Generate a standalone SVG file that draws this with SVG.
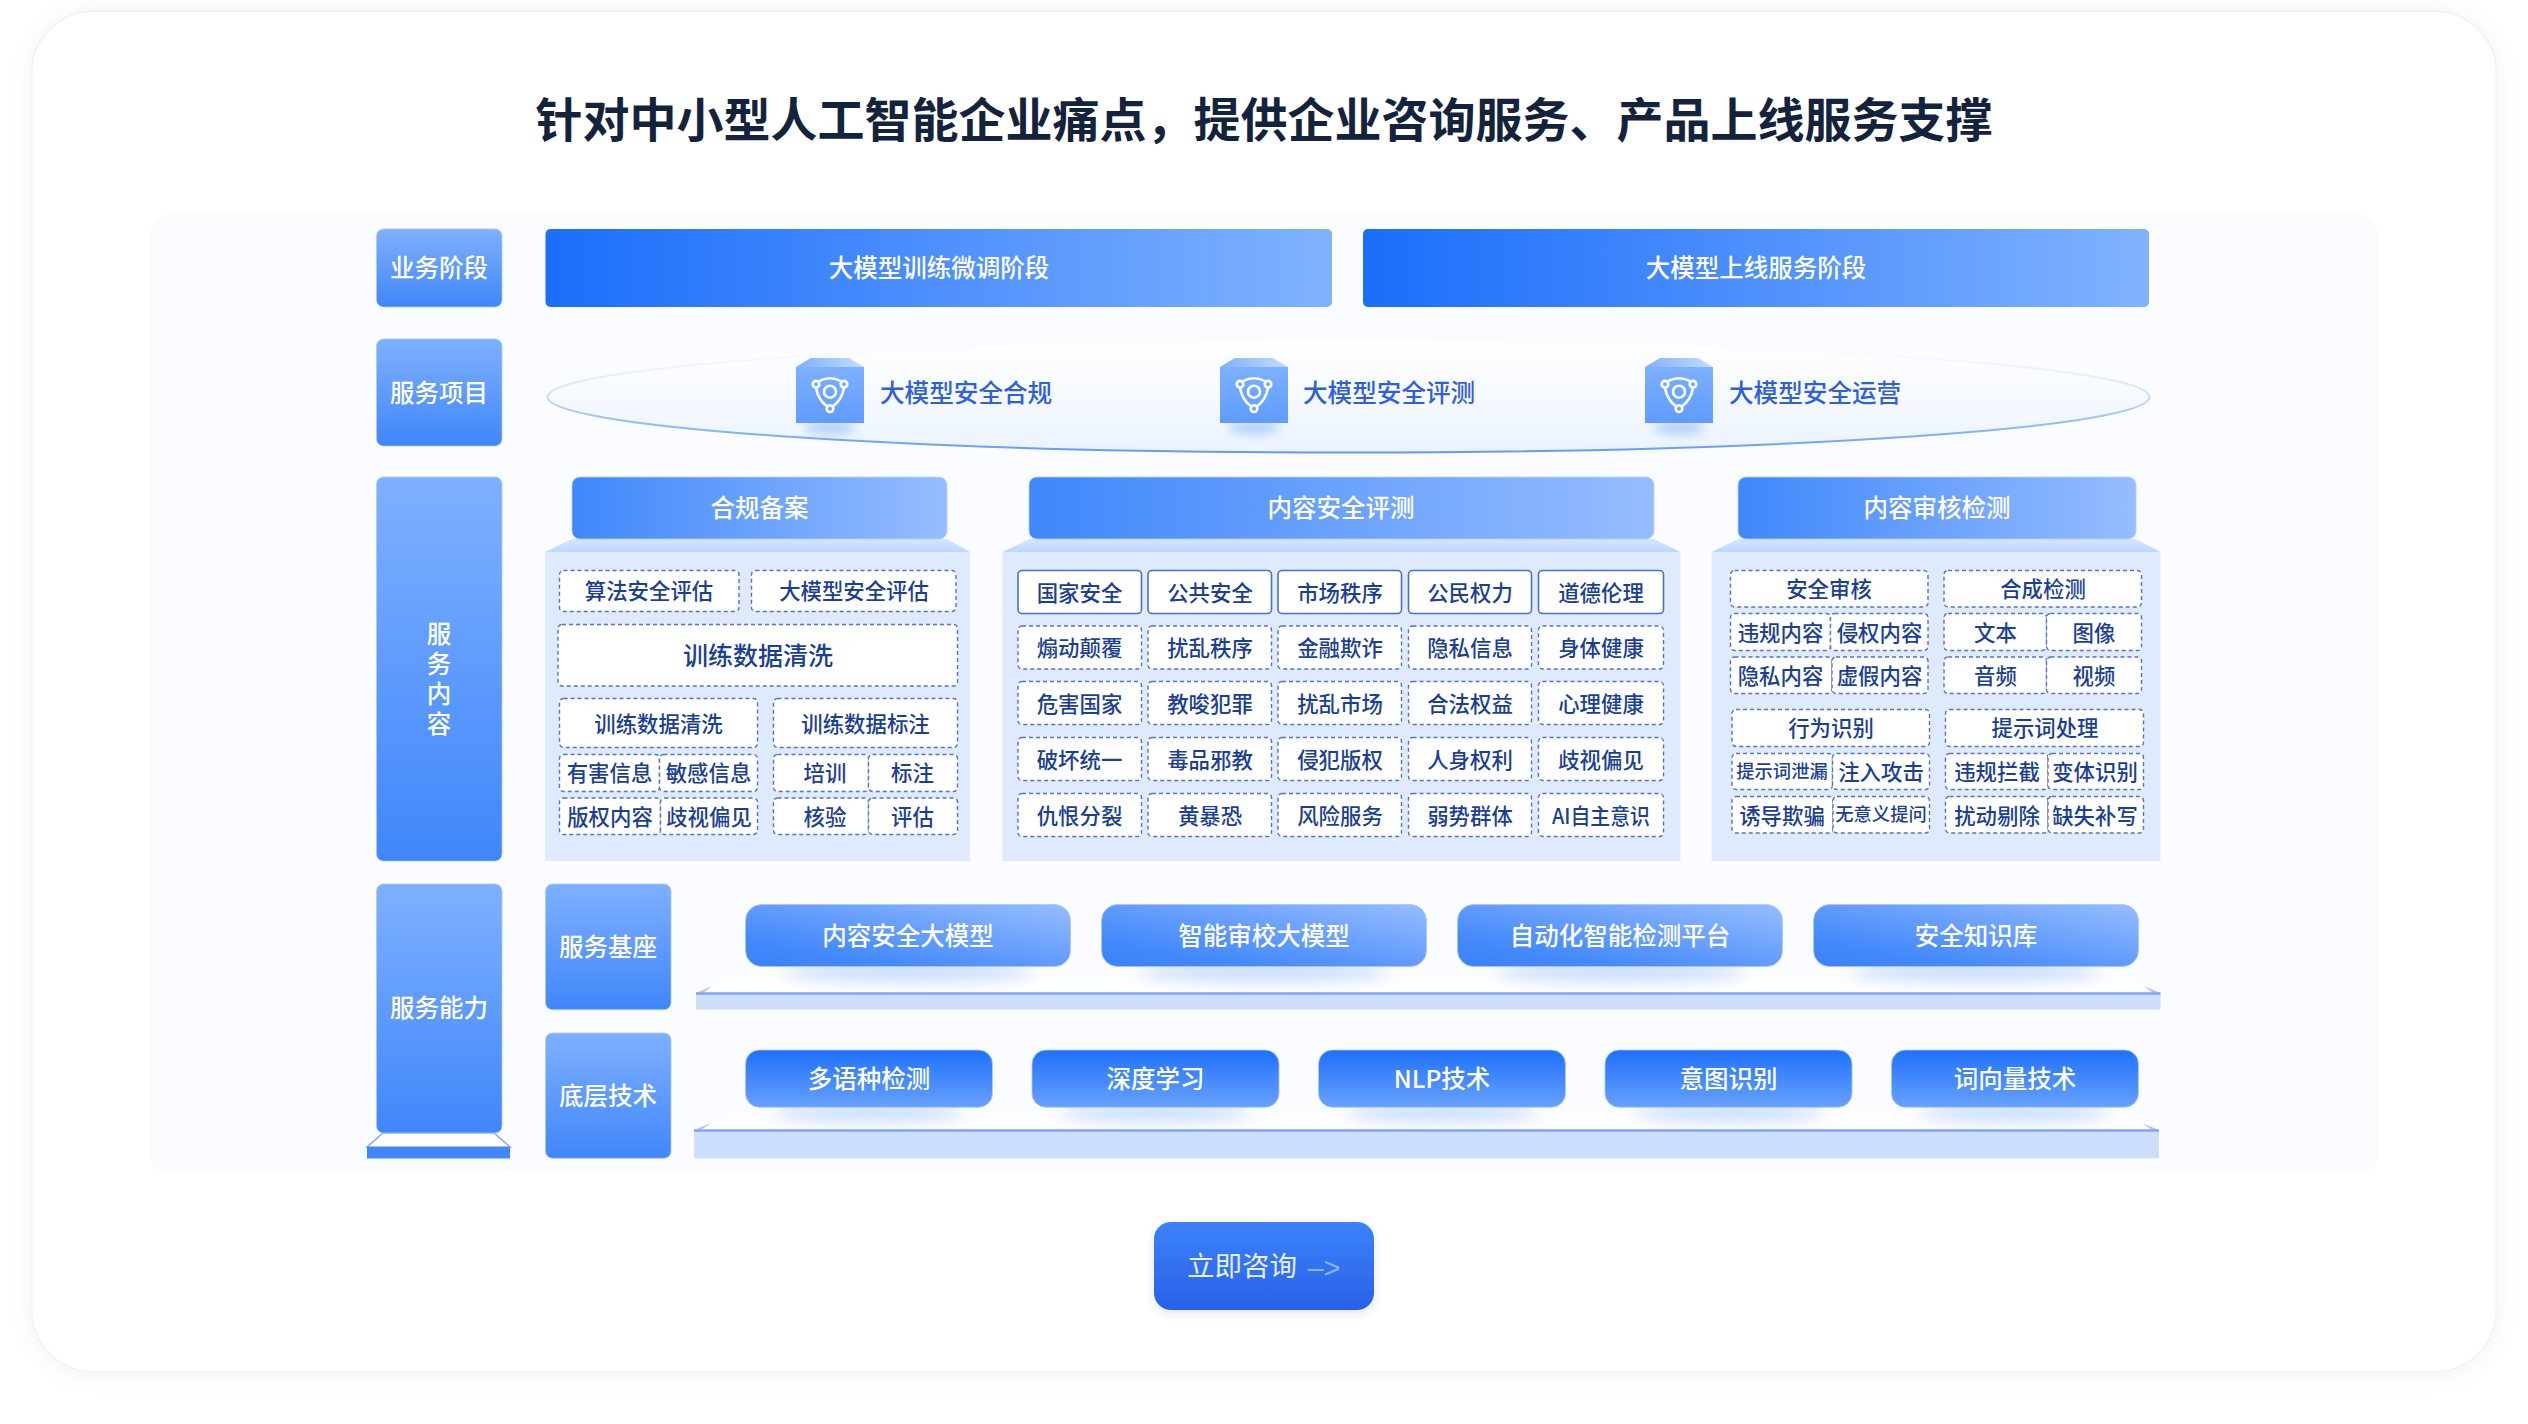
<svg xmlns="http://www.w3.org/2000/svg" width="2528" height="1424" viewBox="0 0 2528 1424">
<style>
text{font-family:"Noto Sans CJK SC","Noto Sans",sans-serif;text-anchor:middle;dominant-baseline:central;transform:translateY(-.07em)}
.w{fill:#fff;font-size:24.5px;font-weight:500}
.c{fill:#1b3f96;font-size:21.4px;font-weight:500}
.cs{fill:#1b3f96;font-size:18.3px;font-weight:500}
.cl{fill:#1b3f96;font-size:25px;font-weight:500}
.svc{fill:#2f5fdc;font-size:24.6px;font-weight:500;text-anchor:start}
.d{fill:#fff;stroke:#5673bd;stroke-width:1.4;stroke-dasharray:4 3}
.s{fill:#fff;stroke:#4a72c4;stroke-width:1.6}
.lab{fill:url(#gLab);stroke:#a9c8ff;stroke-width:.8}
.hd{fill:url(#gHead);stroke:#b5d0ff;stroke-width:.8}
.body{fill:#dfeaff}
.trap{fill:url(#gTrap)}
.b1{fill:url(#gB1);stroke:#a9c8ff;stroke-width:.8}
.b2{fill:url(#gB2);stroke:#a9c8ff;stroke-width:.8}
.shd{fill:#4f90f8;opacity:.32;filter:url(#blur)}
.plat{fill:#cddffd}
.pl{stroke:#85a2f3;stroke-width:2.4}
.sl{fill:#8ea9f5;opacity:.7}
.ic{fill:none;stroke:#fff;stroke-width:2.6;stroke-linecap:round}
</style>
<defs>
<linearGradient id="gLab" x1="0" y1="0" x2="0" y2="1"><stop offset="0" stop-color="#7eb0ff"/><stop offset="1" stop-color="#4086fa"/></linearGradient>
<linearGradient id="gStage" x1="0" y1="0" x2="1" y2="0"><stop offset="0" stop-color="#1b6dfb"/><stop offset="1" stop-color="#80b2ff"/></linearGradient>
<linearGradient id="gHead" x1="0" y1="0" x2="1" y2="0"><stop offset="0" stop-color="#3f87fb"/><stop offset="1" stop-color="#96bdff"/></linearGradient>
<linearGradient id="gTrap" x1="0" y1="0" x2="0" y2="1"><stop offset="0" stop-color="#d6e5ff"/><stop offset="1" stop-color="#bdd7ff"/></linearGradient>
<linearGradient id="gB1" x1="0" y1="1" x2="1" y2="0"><stop offset="0" stop-color="#3a82fa"/><stop offset=".25" stop-color="#468afb"/><stop offset="1" stop-color="#96bdff"/></linearGradient>
<linearGradient id="gB2" x1="0" y1="0" x2="0" y2="1"><stop offset="0" stop-color="#1f71fb"/><stop offset="1" stop-color="#67a1fc"/></linearGradient>
<linearGradient id="gEllF" x1="0" y1="0" x2="0" y2="1"><stop offset="0" stop-color="#fff" stop-opacity=".8"/><stop offset="1" stop-color="#ebf3fe"/></linearGradient>
<linearGradient id="gEllS" x1="0" y1="0" x2="0" y2="1"><stop offset="0" stop-color="#fff" stop-opacity=".3"/><stop offset=".5" stop-color="#c4dafc"/><stop offset="1" stop-color="#5f9bfb"/></linearGradient>
<linearGradient id="gIcB" x1="0" y1="0" x2="0" y2="1"><stop offset="0" stop-color="#7cb0ff"/><stop offset="1" stop-color="#5f9cff"/></linearGradient>
<linearGradient id="gIcT" x1="0" y1="0" x2="1" y2="0"><stop offset="0" stop-color="#7fb0ff"/><stop offset="1" stop-color="#c6dcff"/></linearGradient>
<linearGradient id="gCta" x1="0" y1="0" x2="0" y2="1"><stop offset="0" stop-color="#3c82fa"/><stop offset="1" stop-color="#2861e8"/></linearGradient>
<linearGradient id="gPf" x1="0" y1="0" x2="0" y2="1"><stop offset="0" stop-color="#fff" stop-opacity="0"/><stop offset="1" stop-color="#fff"/></linearGradient>
<filter id="blur" x="-30%" y="-120%" width="160%" height="340%"><feGaussianBlur stdDeviation="8"/></filter>
<filter id="card" x="-5%" y="-5%" width="110%" height="110%"><feDropShadow dx="0" dy="2" stdDeviation="11" flood-color="#1b2b50" flood-opacity=".05"/></filter>
<filter id="ctaS" x="-20%" y="-30%" width="140%" height="170%"><feDropShadow dx="0" dy="3" stdDeviation="4" flood-color="#3a4a70" flood-opacity=".14"/></filter>
<filter id="blurS" x="-40%" y="-150%" width="180%" height="400%"><feGaussianBlur stdDeviation="5"/></filter>
<g id="shield">
<ellipse cx="0" cy="36" rx="26" ry="7" fill="#4f90f8" opacity=".35" filter="url(#blurS)"/>
<path d="M-19-33.7H19L34-24.7H-34Z" fill="url(#gIcT)"/>
<rect x="-34" y="-24.7" width="68" height="56" fill="url(#gIcB)"/>
<circle class="ic" cx="0" cy="0" r="6"/>
<circle class="ic" cx="-14" cy="-7.5" r="3.3"/>
<circle class="ic" cx="14" cy="-7.5" r="3.3"/>
<circle class="ic" cx="0" cy="17" r="3.3"/>
<path class="ic" d="M-10-11Q0-16 10-11M-14-4Q-12 8-3 14.500M14-4Q12 8 3 14.500"/>
</g>
</defs>

<rect width="2528" height="1424" fill="#fff"/>
<rect id="card-bg" x="31.500" y="11" width="2465" height="1361" rx="62" fill="#fff" stroke="#f2f3f5" stroke-width="2" filter="url(#card)"/>
<rect id="panel-bg" x="150" y="214" width="2228" height="959" rx="20" fill="#fbfcff"/>
<g id="title"><text x="1264" y="120" fill="#14233c" font-size="47" font-weight="700">针对中小型人工智能企业痛点，提供企业咨询服务、产品上线服务支撑</text></g>

<g id="row-labels">
<g id="lab-stage"><rect class="lab" x="376.500" y="229" width="125.500" height="78" rx="7"/><text class="w" x="439" y="268">业务阶段</text></g>
<g id="lab-item"><rect class="lab" x="376.500" y="339" width="125.500" height="107" rx="7"/><text class="w" x="439" y="393">服务项目</text></g>
<g id="lab-content"><rect class="lab" x="376.500" y="477" width="125.500" height="384" rx="7"/><text class="w" x="439" y="634"><tspan x="439" y="634">服</tspan><tspan x="439" y="664">务</tspan><tspan x="439" y="694">内</tspan><tspan x="439" y="724">容</tspan></text></g>
<g id="lab-ability">
<path d="M383 1133H494L510 1147H367Z" fill="#fff" stroke="#7fa9f9" stroke-width="1.5"/>
<rect x="367" y="1147" width="143" height="11.500" fill="#3f85fb"/>
<rect class="lab" x="376.500" y="884" width="125.500" height="249" rx="7"/><text class="w" x="439" y="1008">服务能力</text></g>
<g id="lab-base"><rect class="lab" x="545.500" y="884" width="125.500" height="125.700" rx="7"/><text class="w" x="608" y="947.500">服务基座</text></g>
<g id="lab-tech"><rect class="lab" x="545.500" y="1033" width="125.500" height="125.300" rx="7"/><text class="w" x="608" y="1096.500">底层技术</text></g>
</g>

<g id="stages">
<g id="stage-train"><rect x="545.500" y="229" width="786.500" height="78" rx="5" fill="url(#gStage)"/><text class="w" x="939" y="268">大模型训练微调阶段</text></g>
<g id="stage-online"><rect x="1363" y="229" width="786" height="78" rx="5" fill="url(#gStage)"/><text class="w" x="1756" y="268">大模型上线服务阶段</text></g>
</g>

<g id="service-items">
<ellipse cx="1348.500" cy="397" rx="801" ry="55.500" fill="url(#gEllF)" stroke="url(#gEllS)" stroke-width="2"/>
<g id="item-compliance"><use href="#shield" x="830" y="391.700"/><text class="svc" x="880" y="393">大模型安全合规</text></g>
<g id="item-eval"><use href="#shield" x="1254" y="391.700"/><text class="svc" x="1303" y="393">大模型安全评测</text></g>
<g id="item-ops"><use href="#shield" x="1679" y="391.700"/><text class="svc" x="1729" y="393">大模型安全运营</text></g>
</g>

<g id="panel-compliance">
<path class="trap" d="M572 539H947L970 552H545Z"/>
<rect class="body" x="545" y="552" width="425" height="309"/>
<rect class="hd" x="572" y="477" width="375" height="62" rx="8"/><text class="w" x="759.500" y="508">合规备案</text>
<g><rect class="d" x="559.500" y="570.500" width="179.500" height="41" rx="4"/><text class="c" x="649" y="591">算法安全评估</text></g>
<g><rect class="d" x="751.500" y="570.500" width="204.500" height="41" rx="4"/><text class="c" x="854" y="591">大模型安全评估</text></g>
<g><rect class="d" x="558" y="624.500" width="399.500" height="61.500" rx="4"/><text class="cl" x="758" y="656">训练数据清洗</text></g>
<g><rect class="d" x="559.500" y="698.500" width="198" height="49" rx="4"/><text class="c" x="658.500" y="723.500">训练数据清洗</text></g>
<g><rect class="d" x="773.500" y="698.500" width="184" height="49" rx="4"/><text class="c" x="865.500" y="723.500">训练数据标注</text></g>
<g><rect class="d" x="559.500" y="754.500" width="100" height="37" rx="4"/><text class="c" x="609.500" y="773">有害信息</text></g>
<g><rect class="d" x="659.500" y="754.500" width="98" height="37" rx="4"/><text class="c" x="708.500" y="773">敏感信息</text></g>
<g><rect class="d" x="559.500" y="798" width="101" height="36.500" rx="4"/><text class="c" x="610" y="816.500">版权内容</text></g>
<g><rect class="d" x="660.500" y="798" width="97" height="36.500" rx="4"/><text class="c" x="709" y="816.500">歧视偏见</text></g>
<g><rect class="d" x="773.500" y="754.500" width="95" height="37" rx="4"/><text class="c" x="825" y="773">培训</text></g>
<g><rect class="d" x="868.500" y="754.500" width="89" height="37" rx="4"/><text class="c" x="912.500" y="773">标注</text></g>
<g><rect class="d" x="773.500" y="798" width="95" height="36.500" rx="4"/><text class="c" x="825" y="816.500">核验</text></g>
<g><rect class="d" x="868.500" y="798" width="89" height="36.500" rx="4"/><text class="c" x="912.500" y="816.500">评估</text></g>
</g>

<g id="panel-content-eval">
<path class="trap" d="M1029 539H1654L1680.500 552H1002.500Z"/>
<rect class="body" x="1002.500" y="552" width="678" height="309"/>
<rect class="hd" x="1029" y="477" width="625" height="62" rx="8"/><text class="w" x="1341" y="508">内容安全评测</text>
<g><rect class="s" x="1018" y="570.500" width="123.500" height="43" rx="4"/><text class="c" x="1079.500" y="592.500">国家安全</text></g>
<g><rect class="s" x="1148" y="570.500" width="123.500" height="43" rx="4"/><text class="c" x="1210" y="592.500">公共安全</text></g>
<g><rect class="s" x="1278" y="570.500" width="123.500" height="43" rx="4"/><text class="c" x="1340" y="592.500">市场秩序</text></g>
<g><rect class="s" x="1408.500" y="570.500" width="123" height="43" rx="4"/><text class="c" x="1470" y="592.500">公民权力</text></g>
<g><rect class="s" x="1538.500" y="570.500" width="125" height="43" rx="4"/><text class="c" x="1601" y="592.500">道德伦理</text></g>
<g><rect class="d" x="1018" y="626" width="123.500" height="43" rx="4"/><text class="c" x="1079.500" y="648">煽动颠覆</text></g>
<g><rect class="d" x="1148" y="626" width="123.500" height="43" rx="4"/><text class="c" x="1210" y="648">扰乱秩序</text></g>
<g><rect class="d" x="1278" y="626" width="123.500" height="43" rx="4"/><text class="c" x="1340" y="648">金融欺诈</text></g>
<g><rect class="d" x="1408.500" y="626" width="123" height="43" rx="4"/><text class="c" x="1470" y="648">隐私信息</text></g>
<g><rect class="d" x="1538.500" y="626" width="125" height="43" rx="4"/><text class="c" x="1601" y="648">身体健康</text></g>
<g><rect class="d" x="1018" y="681.500" width="123.500" height="43" rx="4"/><text class="c" x="1079.500" y="703.500">危害国家</text></g>
<g><rect class="d" x="1148" y="681.500" width="123.500" height="43" rx="4"/><text class="c" x="1210" y="703.500">教唆犯罪</text></g>
<g><rect class="d" x="1278" y="681.500" width="123.500" height="43" rx="4"/><text class="c" x="1340" y="703.500">扰乱市场</text></g>
<g><rect class="d" x="1408.500" y="681.500" width="123" height="43" rx="4"/><text class="c" x="1470" y="703.500">合法权益</text></g>
<g><rect class="d" x="1538.500" y="681.500" width="125" height="43" rx="4"/><text class="c" x="1601" y="703.500">心理健康</text></g>
<g><rect class="d" x="1018" y="737.500" width="123.500" height="43" rx="4"/><text class="c" x="1079.500" y="759.500">破坏统一</text></g>
<g><rect class="d" x="1148" y="737.500" width="123.500" height="43" rx="4"/><text class="c" x="1210" y="759.500">毒品邪教</text></g>
<g><rect class="d" x="1278" y="737.500" width="123.500" height="43" rx="4"/><text class="c" x="1340" y="759.500">侵犯版权</text></g>
<g><rect class="d" x="1408.500" y="737.500" width="123" height="43" rx="4"/><text class="c" x="1470" y="759.500">人身权利</text></g>
<g><rect class="d" x="1538.500" y="737.500" width="125" height="43" rx="4"/><text class="c" x="1601" y="759.500">歧视偏见</text></g>
<g><rect class="d" x="1018" y="793.500" width="123.500" height="43" rx="4"/><text class="c" x="1079.500" y="815.500">仇恨分裂</text></g>
<g><rect class="d" x="1148" y="793.500" width="123.500" height="43" rx="4"/><text class="c" x="1210" y="815.500">黄暴恐</text></g>
<g><rect class="d" x="1278" y="793.500" width="123.500" height="43" rx="4"/><text class="c" x="1340" y="815.500">风险服务</text></g>
<g><rect class="d" x="1408.500" y="793.500" width="123" height="43" rx="4"/><text class="c" x="1470" y="815.500">弱势群体</text></g>
<g><rect class="d" x="1538.500" y="793.500" width="125" height="43" rx="4"/><text class="c" x="1601" y="815.500" textLength="98" lengthAdjust="spacingAndGlyphs">AI自主意识</text></g>
</g>

<g id="panel-audit">
<path class="trap" d="M1738 539H2136L2160.500 552H1711.500Z"/>
<rect class="body" x="1711.500" y="552" width="449" height="309"/>
<rect class="hd" x="1738" y="477" width="398" height="62" rx="8"/><text class="w" x="1937" y="508">内容审核检测</text>
<g><rect class="d" x="1730.500" y="570.500" width="197.500" height="36.500" rx="4"/><text class="c" x="1829" y="589">安全审核</text></g>
<g><rect class="d" x="1944" y="570.500" width="197.500" height="36.500" rx="4"/><text class="c" x="2043" y="589">合成检测</text></g>
<g><rect class="d" x="1730.500" y="613.500" width="100" height="37" rx="4"/><text class="c" x="1780.500" y="632.500">违规内容</text></g>
<g><rect class="d" x="1830.500" y="613.500" width="97.500" height="37" rx="4"/><text class="c" x="1879.500" y="632.500">侵权内容</text></g>
<g><rect class="d" x="1730.500" y="657" width="101.500" height="36.500" rx="4"/><text class="c" x="1780.500" y="675.500">隐私内容</text></g>
<g><rect class="d" x="1832" y="657" width="96" height="36.500" rx="4"/><text class="c" x="1879.500" y="675.500">虚假内容</text></g>
<g><rect class="d" x="1944" y="613.500" width="102.500" height="37" rx="4"/><text class="c" x="1995.500" y="632.500">文本</text></g>
<g><rect class="d" x="2046.500" y="613.500" width="95" height="37" rx="4"/><text class="c" x="2094" y="632.500">图像</text></g>
<g><rect class="d" x="1944" y="657" width="102.500" height="36.500" rx="4"/><text class="c" x="1995.500" y="675.500">音频</text></g>
<g><rect class="d" x="2046.500" y="657" width="95" height="36.500" rx="4"/><text class="c" x="2094" y="675.500">视频</text></g>
<g><rect class="d" x="1732" y="709.500" width="197.500" height="37" rx="4"/><text class="c" x="1831" y="728">行为识别</text></g>
<g><rect class="d" x="1945.500" y="709.500" width="198" height="37" rx="4"/><text class="c" x="2045" y="728">提示词处理</text></g>
<g><rect class="d" x="1732" y="753.500" width="100.500" height="36" rx="4"/><text class="cs" x="1782" y="771">提示词泄漏</text></g>
<g><rect class="d" x="1832.500" y="753.500" width="97" height="36" rx="4"/><text class="c" x="1881" y="771.500">注入攻击</text></g>
<g><rect class="d" x="1732" y="796.500" width="101" height="36.500" rx="4"/><text class="c" x="1782" y="815.500">诱导欺骗</text></g>
<g><rect class="d" x="1833" y="796.500" width="96.500" height="36.500" rx="4"/><text class="cs" x="1881" y="814">无意义提问</text></g>
<g><rect class="d" x="1945.500" y="753.500" width="102.500" height="36" rx="4"/><text class="c" x="1997" y="771.500">违规拦截</text></g>
<g><rect class="d" x="2048" y="753.500" width="95.500" height="36" rx="4"/><text class="c" x="2095" y="771.500">变体识别</text></g>
<g><rect class="d" x="1945.500" y="796.500" width="102.500" height="36.500" rx="4"/><text class="c" x="1997" y="815.500">扰动剔除</text></g>
<g><rect class="d" x="2048" y="796.500" width="95.500" height="36.500" rx="4"/><text class="c" x="2095" y="815.500">缺失补写</text></g>
</g>

<g id="platform-base">
<path fill="url(#gPf)" d="M696 993L745 967H2110L2160.500 993Z"/>
<rect class="plat" x="696" y="993" width="1464.500" height="16.700"/>
<path class="pl" d="M696 993.500H2160.500"/>
<path class="sl" d="M696 993L712 986L703 993ZM2160.500 993L2144 986L2153 993Z"/>
<ellipse class="shd" cx="908" cy="972" rx="125" ry="9"/>
<ellipse class="shd" cx="1264" cy="972" rx="125" ry="9"/>
<ellipse class="shd" cx="1620" cy="972" rx="125" ry="9"/>
<ellipse class="shd" cx="1976" cy="972" rx="125" ry="9"/>
<g id="base-1"><rect class="b1" x="745.500" y="904.500" width="325" height="62" rx="16"/><text class="w" x="908" y="936">内容安全大模型</text></g>
<g id="base-2"><rect class="b1" x="1101.500" y="904.500" width="325" height="62" rx="16"/><text class="w" x="1264" y="936">智能审校大模型</text></g>
<g id="base-3"><rect class="b1" x="1457.500" y="904.500" width="325" height="62" rx="16"/><text class="w" x="1620" y="936">自动化智能检测平台</text></g>
<g id="base-4"><rect class="b1" x="1813.500" y="904.500" width="325" height="62" rx="16"/><text class="w" x="1976" y="936">安全知识库</text></g>
</g>

<g id="platform-tech">
<path fill="url(#gPf)" d="M694 1130L745 1107H2110L2159 1130Z"/>
<rect class="plat" x="694" y="1130" width="1465" height="28.300"/>
<path class="pl" d="M694 1130.500H2159"/>
<path class="sl" d="M694 1130L711 1123L701 1130ZM2159 1130L2142 1123L2152 1130Z"/>
<ellipse class="shd" cx="869" cy="1113" rx="95" ry="8"/>
<ellipse class="shd" cx="1155.500" cy="1113" rx="95" ry="8"/>
<ellipse class="shd" cx="1442" cy="1113" rx="95" ry="8"/>
<ellipse class="shd" cx="1728.500" cy="1113" rx="95" ry="8"/>
<ellipse class="shd" cx="2015" cy="1113" rx="95" ry="8"/>
<g id="tech-1"><rect class="b2" x="745.500" y="1050" width="247" height="57.300" rx="14"/><text class="w" x="869" y="1079">多语种检测</text></g>
<g id="tech-2"><rect class="b2" x="1032" y="1050" width="247" height="57.300" rx="14"/><text class="w" x="1155.500" y="1079">深度学习</text></g>
<g id="tech-3"><rect class="b2" x="1318.500" y="1050" width="247" height="57.300" rx="14"/><text class="w" x="1442" y="1079">NLP技术</text></g>
<g id="tech-4"><rect class="b2" x="1605" y="1050" width="247" height="57.300" rx="14"/><text class="w" x="1728.500" y="1079">意图识别</text></g>
<g id="tech-5"><rect class="b2" x="1891.500" y="1050" width="247" height="57.300" rx="14"/><text class="w" x="2015" y="1079">词向量技术</text></g>
</g>

<g id="cta">
<rect x="1154" y="1222" width="220" height="88" rx="17" fill="url(#gCta)" filter="url(#ctaS)"/>
<text x="1242" y="1266" fill="#e6efff" font-size="27.500">立即咨询</text>
<text x="1324" y="1270" fill="#8ab4fb" font-size="29" style="font-family:'Liberation Sans',sans-serif">–&gt;</text>
</g>
<g id="connectors"></g>
</svg>
